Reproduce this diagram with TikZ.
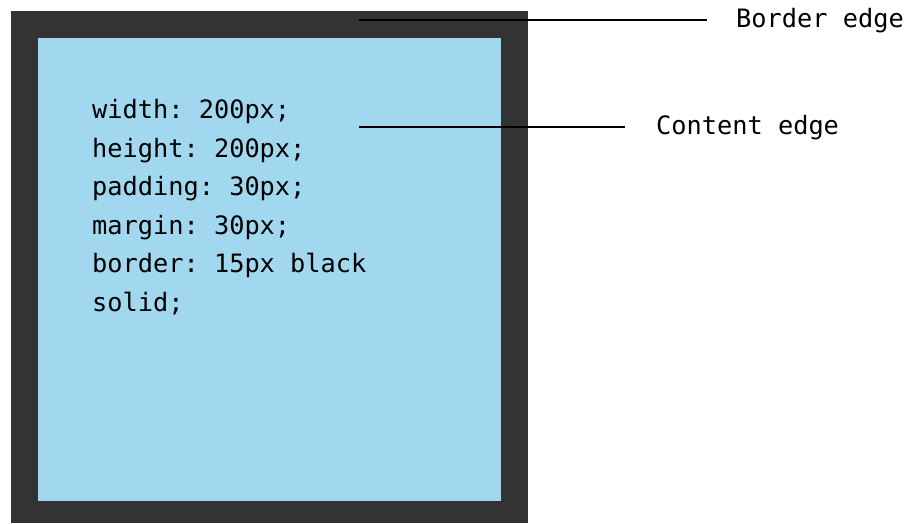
\documentclass[tikz,border=0pt]{standalone}
\usepackage{fontspec}
\setmonofont{DejaVu Sans Mono}
\definecolor{borderdark}{HTML}{333333}
\definecolor{contentblue}{HTML}{A1D8EF}
\begin{document}
\begin{tikzpicture}[x=1pt,y=-1pt,
  codetext/.style={font=\fontsize{25.3}{38.6}\selectfont\ttfamily, inner sep=0pt, align=left},
  edgelabel/.style={font=\fontsize{25.3}{30}\selectfont\ttfamily, inner sep=0pt, anchor=west},
  edgeline/.style={draw=black, line width=2pt}]
\useasboundingbox (0,0) rectangle (909,523);
\fill[borderdark] (11,11) rectangle (528,523);
\fill[contentblue] (38,38) rectangle (501,501);
\node[codetext, anchor=north west] (code) at (92,99) {width: 200px;\\height: 200px;\\padding: 30px;\\margin: 30px;\\border: 15px black\\solid;};
\node[edgelabel] (blabel) at (736,21) {Border edge};
\node[edgelabel] (clabel) at (656,128) {Content edge};
\coordinate (bstart) at (359,20);
\coordinate (bend) at (707,20);
\coordinate (cstart) at (359,127);
\coordinate (cend) at (625,127);
\draw[edgeline] (bstart) -- (bend);
\draw[edgeline] (cstart) -- (cend);
\end{tikzpicture}
\end{document}
